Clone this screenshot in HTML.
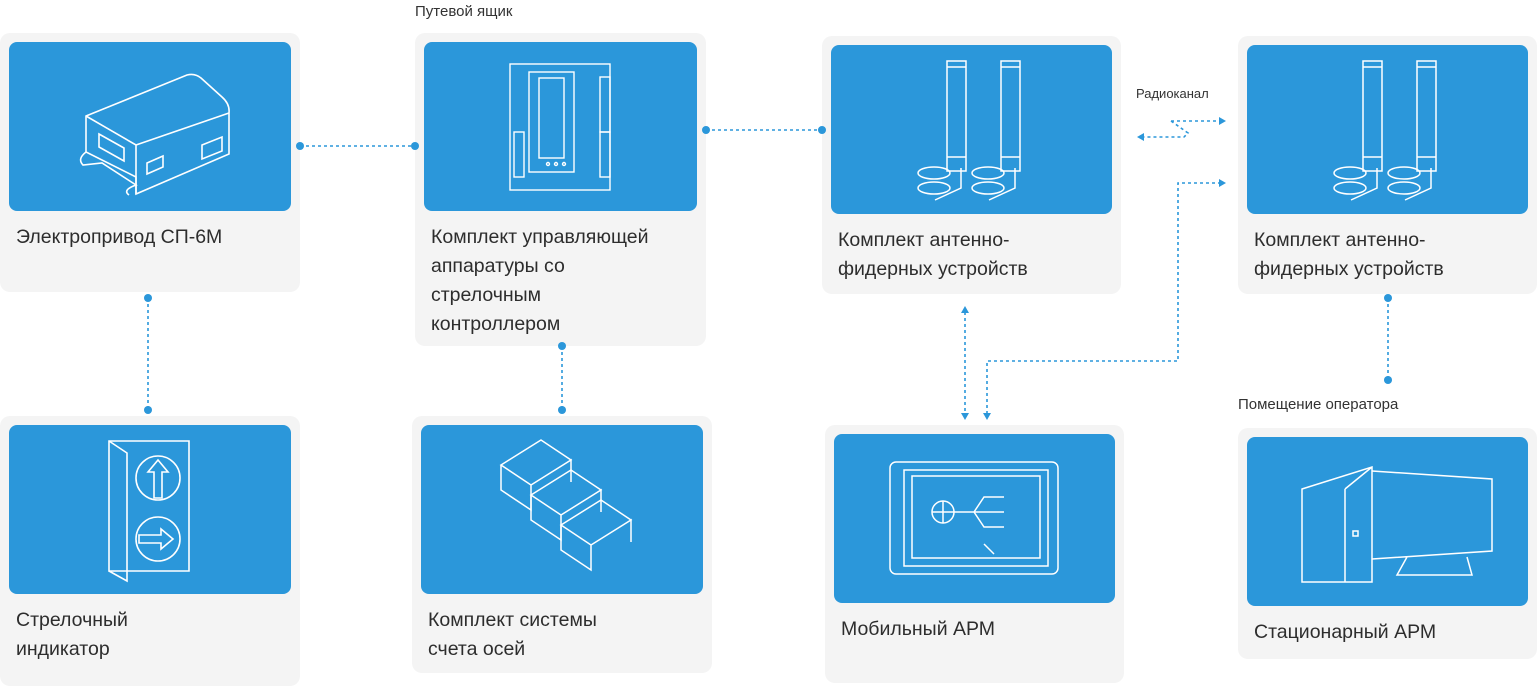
<!DOCTYPE html>
<html><head><meta charset="utf-8"><style>
body{margin:0;width:1538px;height:687px;background:#fff;position:relative;overflow:hidden;font-family:"Liberation Sans",sans-serif;}
.c{position:absolute;background:#f4f4f4;border-radius:10px;}
.b{position:absolute;left:9px;top:9px;right:9px;height:169px;background:#2b97da;border-radius:8px;overflow:hidden;}
.t{position:absolute;left:16px;top:190px;font-size:19.5px;line-height:29px;color:#2d2d2d;}
.l{position:absolute;font-size:15px;color:#333;}
svg.ov{position:absolute;left:0;top:0;}
.b svg{position:absolute;left:0;top:0;}
</style></head><body>

<div class="c" style="left:0;top:33px;width:300px;height:259px"><div class="b">
<svg width="282" height="169" fill="none" stroke="#fff" stroke-width="1.6"><path d="M69 41 L170 0 Q178 -2 184 3 L205 22 Q213 29 212 38 L212 79 L119 119 L119 102 L69 77 Z" transform="translate(8,33)"/><path d="M69 41 L119 70 L212 38 M119 70 L119 119" transform="translate(8,33)"/><path d="M82 59 L107 73 L107 86 L82 72 Z M130 88 L146 81 L146 92 L130 99 Z M185 70 L205 62 L205 76 L185 84 Z" transform="translate(8,33)"/><path d="M69 77 Q60 84 66 90 L85 88 L119 110 Q105 115 112 120" transform="translate(8,33)"/></svg>
</div><div class="t">Электропривод СП-6М</div></div>

<div class="l" style="left:415px;top:3px">Путевой ящик</div>
<div class="c" style="left:415px;top:33px;width:291px;height:313px"><div class="b">
<svg width="273" height="169" fill="none" stroke="#fff" stroke-width="1.4"><rect x="86" y="22" width="100" height="126"/><rect x="105" y="30" width="45" height="100"/><rect x="115" y="36" width="25" height="80"/><rect x="176" y="35" width="10" height="55"/><rect x="90" y="90" width="10" height="45"/><rect x="176" y="90" width="10" height="45"/><circle cx="124" cy="122" r="1.5"/><circle cx="132" cy="122" r="1.5"/><circle cx="140" cy="122" r="1.5"/></svg>
</div><div class="t" style="top:190px">Комплект управляющей<br>аппаратуры со<br>стрелочным<br>контроллером</div></div>

<div class="c" style="left:822px;top:36px;width:299px;height:258px"><div class="b">
<svg width="281" height="169" fill="none" stroke="#fff" stroke-width="1.5"><path d="M116 16 h19 v110 h-19 z M170 16 h19 v110 h-19 z"/><path d="M116 22 h19 M170 22 h19 M116 112 h19 M170 112 h19"/><ellipse cx="103" cy="128" rx="16" ry="6"/><ellipse cx="103" cy="143" rx="16" ry="6"/><ellipse cx="157" cy="128" rx="16" ry="6"/><ellipse cx="157" cy="143" rx="16" ry="6"/><path d="M104 155 l26 -12 v-20 M158 155 l26 -12 v-20"/></svg>
</div><div class="t" style="top:190px">Комплект антенно-<br>фидерных устройств</div></div>

<div class="c" style="left:1238px;top:36px;width:299px;height:258px"><div class="b">
<svg width="281" height="169" fill="none" stroke="#fff" stroke-width="1.5"><path d="M116 16 h19 v110 h-19 z M170 16 h19 v110 h-19 z"/><path d="M116 22 h19 M170 22 h19 M116 112 h19 M170 112 h19"/><ellipse cx="103" cy="128" rx="16" ry="6"/><ellipse cx="103" cy="143" rx="16" ry="6"/><ellipse cx="157" cy="128" rx="16" ry="6"/><ellipse cx="157" cy="143" rx="16" ry="6"/><path d="M104 155 l26 -12 v-20 M158 155 l26 -12 v-20"/></svg>
</div><div class="t" style="top:190px">Комплект антенно-<br>фидерных устройств</div></div>

<div class="c" style="left:0;top:416px;width:300px;height:270px"><div class="b">
<svg width="282" height="169" fill="none" stroke="#fff" stroke-width="1.6"><path d="M100 16 h80 v130 h-80 z"/><path d="M100 16 l18 12 v128 l-18 -10"/><circle cx="149" cy="53" r="22"/><circle cx="149" cy="114" r="22"/><path d="M145 73 v-26 h-6 l10 -12 l10 12 h-6 v26 z M130 110 h22 v-6 l12 10 l-12 10 v-6 h-22 z"/></svg>
</div><div class="t" style="top:190px">Стрелочный<br>индикатор</div></div>

<div class="c" style="left:412px;top:416px;width:300px;height:257px"><div class="b">
<svg width="282" height="169" fill="none" stroke="#fff" stroke-width="1.5"><path d="M80 40 l40 -25 l30 20 l-40 25 z M80 40 v25 l30 20 v-25 M110 60 l40 -25 v22"/><path d="M110 70 l40 -25 l30 20 l-40 25 z M110 70 v25 l30 20 v-25 M140 90 l40 -25 v22"/><path d="M140 100 l40 -25 l30 20 l-40 25 z M140 100 v25 l30 20 v-25 M170 120 l40 -25 v22"/></svg>
</div><div class="t" style="top:190px">Комплект системы<br>счета осей</div></div>

<div class="c" style="left:825px;top:425px;width:299px;height:258px"><div class="b">
<svg width="281" height="169" fill="none" stroke="#fff" stroke-width="1.5"><rect x="56" y="28" width="168" height="112" rx="6"/><rect x="70" y="36" width="144" height="96"/><rect x="78" y="42" width="128" height="82"/><circle cx="109" cy="78" r="11"/><path d="M98 78 h22 M109 67 v22 M120 78 h20 l10 -15 h20 M140 78 h30 M140 78 l10 15 h20 M150 110 l10 10"/></svg>
</div><div class="t" style="top:190px">Мобильный АРМ</div></div>

<div class="l" style="left:1238px;top:396px">Помещение оператора</div>
<div class="c" style="left:1238px;top:428px;width:299px;height:231px"><div class="b">
<svg width="281" height="169" fill="none" stroke="#fff" stroke-width="1.5"><path d="M55 52 l70 -22 v115 l-70 0 z M55 52 v93 M98 52 v93 M98 52 l27 -22"/><path d="M125 34 l120 8 v72 l-120 8 M160 120 l-10 18 h75 l-5 -18"/><rect x="106" y="94" width="5" height="5"/></svg>
</div><div class="t" style="top:190px">Стационарный АРМ</div></div>

<svg class="ov" width="1538" height="687" fill="none" stroke="#2b97da" stroke-width="1.6" stroke-dasharray="3,3">
<g fill="#2b97da" stroke="none"><circle cx="300" cy="146" r="4"/><circle cx="415" cy="146" r="4"/><circle cx="706" cy="130" r="4"/><circle cx="822" cy="130" r="4"/><circle cx="148" cy="298" r="4"/><circle cx="148" cy="410" r="4"/><circle cx="562" cy="346" r="4"/><circle cx="562" cy="410" r="4"/><circle cx="1388" cy="298" r="4"/><circle cx="1388" cy="380" r="4"/>
<path d="M965 306 l-4 7 h8 z M965 420 l-4 -7 h8 z M987 420 l-4 -7 h8 z M1226 183 l-7 -4 v8 z M1226 121 l-7 -4 v8 z M1137 137 l7 -4 v8 z"/></g>
<path d="M300 146 H415 M706 130 H822 M148 298 V410 M562 346 V410 M1388 298 V380 M965 312 V414 M987 414 V361 H1178 V183 H1220 M1171 121 H1220 M1171 121 L1188 133 L1184 137 H1144"/>
</svg>
<div class="l" style="left:1136px;top:86px;font-size:13px">Радиоканал</div>
</body></html>
